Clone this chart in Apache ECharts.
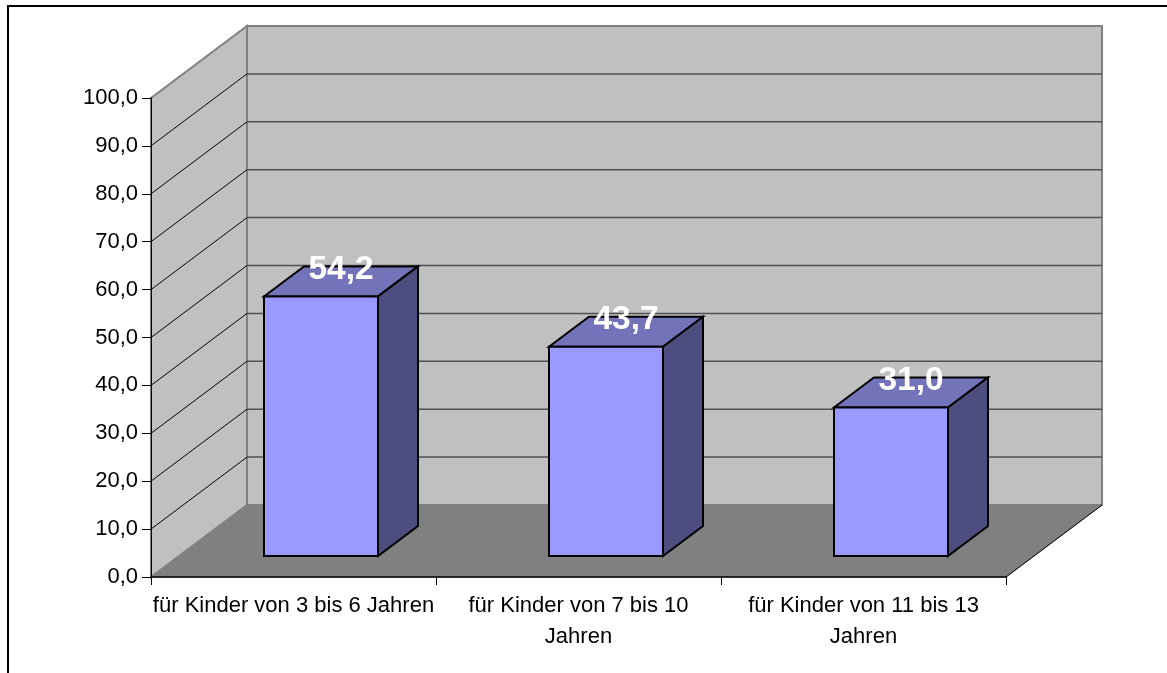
<!DOCTYPE html>
<html>
<head>
<meta charset="utf-8">
<title>Chart</title>
<script src="https://cdn.jsdelivr.net/npm/echarts@6/dist/echarts.min.js"></script>
<style>
html, body { margin: 0; padding: 0; background: #fff; }
#main { width: 1167px; height: 673px; }
</style>
</head>
<body>
<div id="main"></div>
<script>
var categories = ['für Kinder von 3 bis 6 Jahren', 'für Kinder von 7 bis 10\nJahren', 'für Kinder von 11 bis 13\nJahren'];
var values = [54.2, 43.7, 31.0];
var gridTicks = [10, 20, 30, 40, 50, 60, 70, 80, 90];

// depth of the fake 3d box, in pixels
var roomDx = 96, roomDy = -72;
var barDx = 40, barDy = -30;
var barOffX = 27.5, barOffY = -21;
var barWidth = 0.4;

function fmt(v) {
    return v.toFixed(1).replace('.', ',');
}

function poly(points, fill, stroke, lineWidth) {
    return {
        type: 'polygon',
        shape: { points: points },
        style: { fill: fill, stroke: stroke, lineWidth: lineWidth || 0, lineJoin: 'miter' }
    };
}

function line(a, b, color, width) {
    return {
        type: 'line',
        shape: { x1: a[0], y1: a[1], x2: b[0], y2: b[1] },
        style: { stroke: color, lineWidth: width }
    };
}

// walls and floor, one item only
function renderRoom(params, api) {
    var w = api.size([1, 0])[0];
    var x0 = api.coord([0, 0])[0] - w / 2;
    var x1 = api.coord([categories.length - 1, 0])[0] + w / 2;
    var yB = api.coord([0, 0])[1];
    var yT = api.coord([0, 100])[1];
    var grey = '#c0c0c0', edge = '#808080';
    return {
        type: 'group',
        children: [
            poly([[x0 + roomDx, yT + roomDy], [x1 + roomDx, yT + roomDy], [x1 + roomDx, yB + roomDy], [x0 + roomDx, yB + roomDy]], grey, edge, 2),
            poly([[x0, yT], [x0 + roomDx, yT + roomDy], [x0 + roomDx, yB + roomDy], [x0, yB]], grey, edge, 2),
            poly([[x0, yB], [x0 + roomDx, yB + roomDy], [x1 + roomDx, yB + roomDy], [x1, yB]], '#808080', '#808080', 1),
            line([x1, yB], [x1 + roomDx, yB + roomDy], '#000', 1)
        ]
    };
}

// gridlines run across the side wall and then the back wall
function renderGrid(params, api) {
    var w = api.size([1, 0])[0];
    var x0 = api.coord([0, 0])[0] - w / 2;
    var x1 = api.coord([categories.length - 1, 0])[0] + w / 2;
    var y = api.coord([0, api.value(0)])[1];
    return {
        type: 'group',
        children: [
            line([x0, y], [x0 + roomDx, y + roomDy], '#000', 1),
            line([x0 + roomDx, y + roomDy], [x1 + roomDx, y + roomDy], '#505050', 1.5)
        ]
    };
}

function renderBar(params, api) {
    var w = api.size([1, 0])[0] * barWidth;
    var top = api.coord([api.value(0), api.value(1)]);
    var base = api.coord([api.value(0), 0]);
    var l = top[0] - w / 2 + barOffX;
    var r = l + w;
    var t = top[1] + barOffY;
    var b = base[1] + barOffY;
    return {
        type: 'group',
        children: [
            poly([[l, t], [r, t], [r + barDx, t + barDy], [l + barDx, t + barDy]], '#7373b9', '#000', 2),
            poly([[r, t], [r + barDx, t + barDy], [r + barDx, b + barDy], [r, b]], '#4d4d80', '#000', 2),
            poly([[l, t], [r, t], [r, b], [l, b]], '#9999ff', '#000', 2),
            {
                type: 'text',
                x: (l + r + barDx) / 2,
                y: t + barDy + 3,
                z2: 10,
                style: {
                    text: fmt(api.value(1)),
                    fill: '#fff',
                    font: 'bold 33.5px "Liberation Sans", Arial, sans-serif',
                    align: 'center',
                    verticalAlign: 'middle'
                }
            }
        ]
    };
}

var myChart = echarts.init(document.getElementById('main'));

var option = {
    animation: false,
    backgroundColor: '#fff',
    textStyle: { fontFamily: '"Liberation Sans", Arial, sans-serif' },
    graphic: [{
        type: 'polyline',
        silent: true,
        shape: { points: [[8, 673], [8, 6], [1167, 6]] },
        style: { fill: 'none', stroke: '#000', lineWidth: 2 }
    }],
    grid: { left: 151, top: 98, width: 855, height: 479 },
    xAxis: {
        type: 'category',
        data: categories,
        z: 10,
        axisLine: { lineStyle: { color: '#000', width: 1.5 } },
        axisTick: { show: true, length: 8, alignWithLabel: false, lineStyle: { color: '#000' } },
        axisLabel: { color: '#000', fontSize: 22, lineHeight: 31, margin: 13, interval: 0 }
    },
    yAxis: {
        type: 'value',
        min: 0,
        max: 100,
        interval: 10,
        z: 10,
        splitLine: { show: false },
        axisLine: { show: true, lineStyle: { color: '#000', width: 1 } },
        axisTick: { show: true, length: 9, lineStyle: { color: '#000' } },
        axisLabel: { color: '#000', fontSize: 22, margin: 13, padding: [4, 0, 0, 0], formatter: fmt }
    },
    series: [
        {
            type: 'custom',
            silent: true,
            z: 1,
            renderItem: renderRoom,
            data: [[0]]
        },
        {
            type: 'custom',
            silent: true,
            z: 2,
            renderItem: renderGrid,
            encode: { y: 0 },
            data: gridTicks.map(function (v) { return [v]; })
        },
        {
            type: 'custom',
            z: 3,
            renderItem: renderBar,
            encode: { x: 0, y: 1 },
            data: values.map(function (v, i) { return [i, v]; })
        }
    ]
};

myChart.setOption(option);
</script>
</body>
</html>
